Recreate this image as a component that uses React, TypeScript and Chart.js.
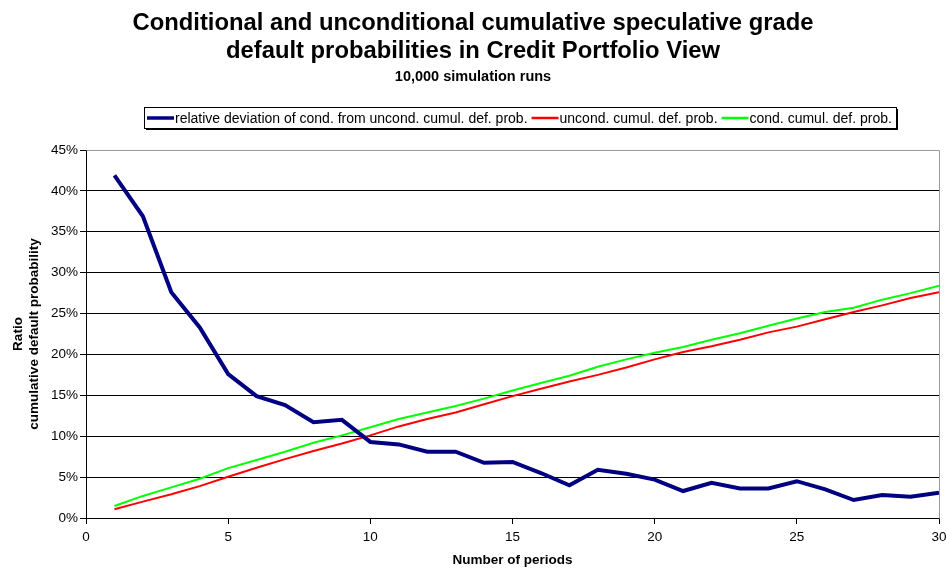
import React, { useEffect, useRef } from "react";
import { Chart, registerables } from "chart.js";

Chart.register(...registerables);

const periods = [1, 2, 3, 4, 5, 6, 7, 8, 9, 10, 11, 12, 13, 14, 15, 16, 17, 18, 19, 20, 21, 22, 23, 24, 25, 26, 27, 28, 29, 30];
const relDeviation = [41.9, 36.9, 27.6, 23.3, 17.6, 14.9, 13.8, 11.7, 12.0, 9.3, 9.0, 8.1, 8.1, 6.75, 6.85, 5.5, 4.0, 5.9, 5.4, 4.7, 3.3, 4.3, 3.6, 3.6, 4.5, 3.5, 2.2, 2.8, 2.6, 3.1];
const uncondCumul = [1.06, 2.0, 2.9, 3.9, 5.05, 6.15, 7.2, 8.2, 9.1, 10.1, 11.2, 12.1, 12.9, 13.9, 14.9, 15.8, 16.7, 17.5, 18.4, 19.4, 20.3, 21.0, 21.8, 22.7, 23.4, 24.3, 25.2, 26.0, 26.9, 27.6];
const condCumul = [1.47, 2.7, 3.75, 4.8, 6.1, 7.1, 8.1, 9.2, 10.1, 11.1, 12.1, 12.9, 13.7, 14.6, 15.6, 16.5, 17.4, 18.5, 19.4, 20.2, 20.9, 21.8, 22.6, 23.5, 24.4, 25.2, 25.7, 26.7, 27.5, 28.4];

const seriesNames = [
  "relative deviation of cond. from uncond. cumul. def. prob.",
  "uncond. cumul. def. prob.",
  "cond. cumul. def. prob.",
];
const seriesColors = ["#000080", "#FF0000", "#00FF00"];
const seriesWidths = [4, 2, 2];

const titleLines = [
  "Conditional and unconditional cumulative speculative grade",
  "default probabilities in Credit Portfolio View",
];
const subtitleText = "10,000 simulation runs";
const yTitleLines = ["Ratio", "cumulative default probability"];
const xTitleText = "Number of periods";

const FONT = "'Liberation Sans', Arial, sans-serif";
const SMALL = 13.5;
const LEGEND_SIZE = 14;

const frameAndLegend = {
  id: "frameAndLegend",
  afterDatasetsDraw(chart: any) {
    const { ctx, chartArea } = chart;
    ctx.save();
    ctx.strokeStyle = "#9a9a9a";
    ctx.lineWidth = 1;
    ctx.beginPath();
    ctx.moveTo(Math.round(chartArea.left) + 0.5, Math.round(chartArea.top) + 0.5);
    ctx.lineTo(Math.round(chartArea.right) + 0.5, Math.round(chartArea.top) + 0.5);
    ctx.lineTo(Math.round(chartArea.right) + 0.5, Math.round(chartArea.bottom) + 0.5);
    ctx.stroke();
    ctx.restore();
  },
  afterDraw(chart: any) {
    const { ctx, chartArea } = chart;
    ctx.save();
    ctx.font = `${LEGEND_SIZE}px ${FONT}`;
    const lineLen = 27;
    const gap = 1;
    const itemGap = 4;
    const padL = 3;
    const padR = 4;
    const widths = seriesNames.map((t) => ctx.measureText(t).width);
    let total = padL + padR;
    widths.forEach((w, i) => {
      total += lineLen + gap + w + (i < widths.length - 1 ? itemGap : 0);
    });
    total = Math.round(total);
    const cx = (chartArea.left + chartArea.right) / 2 + 7;
    const boxLeft = Math.round(cx - total / 2);
    const boxTop = Math.round(chartArea.top - 43);
    const boxH = 21;
    ctx.fillStyle = "#000";
    ctx.fillRect(boxLeft + 2, boxTop + boxH + 1, total, 1);
    ctx.fillRect(boxLeft + total + 1, boxTop + 2, 1, boxH);
    ctx.strokeStyle = "#000";
    ctx.lineWidth = 1;
    ctx.strokeRect(boxLeft + 0.5, boxTop + 0.5, total, boxH);
    const cy = boxTop + boxH / 2 + 0.5;
    let x = boxLeft + padL;
    ctx.textBaseline = "middle";
    ctx.textAlign = "left";
    seriesNames.forEach((t, i) => {
      ctx.strokeStyle = seriesColors[i];
      ctx.lineWidth = seriesWidths[i] === 4 ? 3.5 : 2.5;
      ctx.beginPath();
      ctx.moveTo(x, cy);
      ctx.lineTo(x + lineLen, cy);
      ctx.stroke();
      x += lineLen + gap;
      ctx.fillStyle = "#000";
      ctx.fillText(t, x, cy + 1);
      x += widths[i] + itemGap;
    });
    ctx.restore();
  },
};

export default function App() {
  const canvasRef = useRef<HTMLCanvasElement | null>(null);

  useEffect(() => {
    if (!canvasRef.current) return;
    const toPoints = (vals: number[]) => periods.map((p, i) => ({ x: p, y: vals[i] }));
    const valueSets = [relDeviation, uncondCumul, condCumul];
    const chart = new Chart(canvasRef.current, {
      type: "line",
      data: {
        datasets: valueSets.map((vals, i) => ({
          label: seriesNames[i],
          data: toPoints(vals),
          borderColor: seriesColors[i],
          backgroundColor: seriesColors[i],
          borderWidth: seriesWidths[i],
          pointRadius: 0,
          tension: 0,
          fill: false,
        })),
      },
      options: {
        responsive: false,
        animation: false,
        events: [],
        layout: { padding: { left: 0, right: 0, top: 0, bottom: 0 } },
        plugins: {
          legend: { display: false },
          tooltip: { enabled: false },
          title: {
            display: true,
            text: titleLines,
            color: "#000",
            font: { family: FONT, size: 23.8, weight: "bold", lineHeight: 28 / 23.8 },
            padding: { top: 9, bottom: 3 },
          },
          subtitle: {
            display: true,
            text: subtitleText,
            color: "#000",
            font: { family: FONT, size: 14.5, weight: "bold", lineHeight: 1.2 },
            padding: { top: 0, bottom: 64.6 },
          },
        },
        scales: {
          x: {
            type: "linear",
            min: 0,
            max: 30,
            border: { display: true, color: "#000", width: 1 },
            grid: {
              drawOnChartArea: false,
              drawTicks: true,
              tickLength: 6,
              tickColor: "#000",
            },
            ticks: {
              stepSize: 5,
              color: "#000",
              padding: 5,
              font: { family: FONT, size: SMALL },
              maxRotation: 0,
            },
            title: {
              display: true,
              text: xTitleText,
              color: "#000",
              font: { family: FONT, size: SMALL, weight: "bold" },
              padding: { top: 1.7, bottom: 0.9 },
            },
            afterFit: (scale: any) => {
              scale.paddingRight = 7;
            },
          },
          y: {
            type: "linear",
            min: 0,
            max: 45,
            border: { display: true, color: "#000", width: 1 },
            grid: {
              drawOnChartArea: true,
              drawTicks: true,
              tickLength: 6,
              color: (c: any) => (c.tick && c.tick.value === 45 ? "rgba(0,0,0,0)" : "#000"),
              tickColor: "#000",
            },
            ticks: {
              stepSize: 5,
              color: "#000",
              padding: 2,
              font: { family: FONT, size: SMALL },
              callback: (v: any) => `${v}%`,
            },
            title: {
              display: true,
              text: yTitleLines,
              color: "#000",
              font: { family: FONT, size: SMALL, weight: "bold", lineHeight: 16 / SMALL },
              padding: { top: 10, bottom: 7 },
            },
          },
        },
      },
      plugins: [frameAndLegend],
    });
    return () => chart.destroy();
  }, []);

  return (
    <div style={{ position: "absolute", left: 0, top: 0, width: 946, height: 569, background: "#fff" }}>
      <canvas ref={canvasRef} width={946} height={569} />
    </div>
  );
}
